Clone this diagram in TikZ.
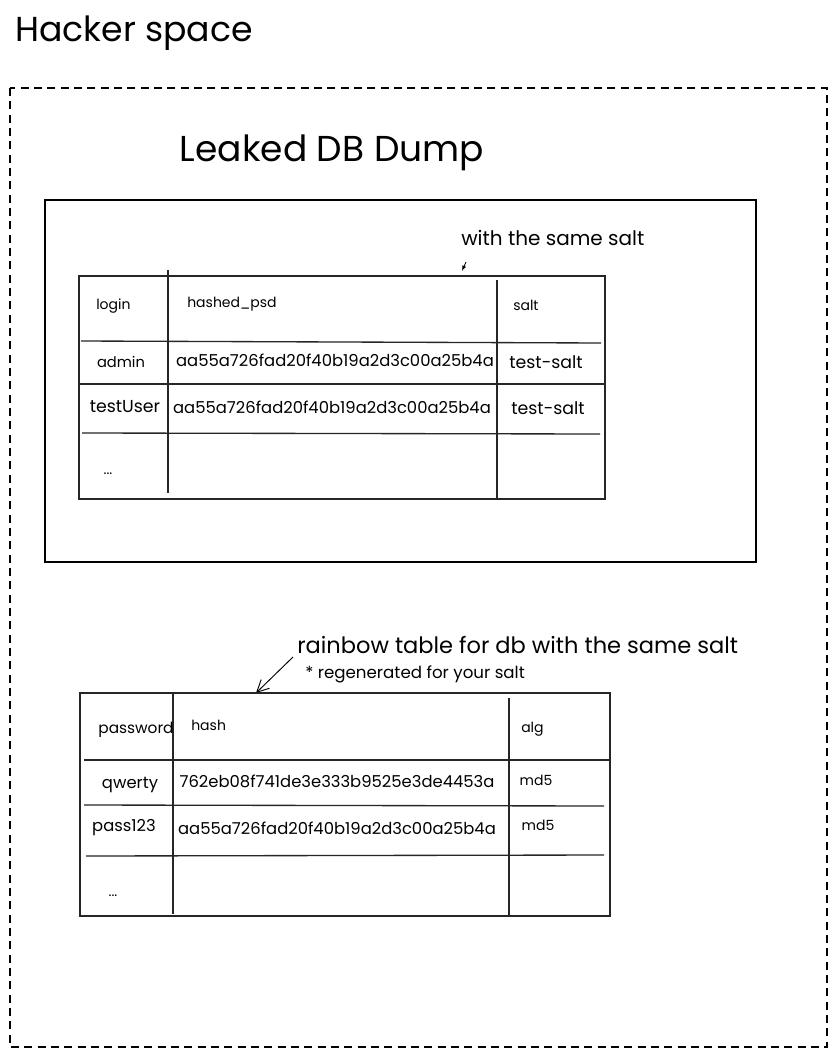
\documentclass[tikz,border=0pt]{standalone}
\usepackage{fontspec}
\setmainfont{Poppins}
\usetikzlibrary{arrows.meta}
\tikzset{
  txt/.style={inner sep=0pt, font=\fontsize{10.5}{12}\selectfont},
  cell/.style={inner sep=0pt, font=\fontsize{12.3}{14}\selectfont},
  big/.style={inner sep=0pt, font=\fontsize{26}{30}\selectfont},
  grid/.style={line width=1pt, black!85},
}
\begin{document}
\begin{tikzpicture}[x=0.75pt,y=-0.75pt]
    	\useasboundingbox (0,0) rectangle (836,1056);
    	\fill[white] (0,0) rectangle (836,1056);

    	\node[big,anchor=west] (hacker) at (15,33) {Hacker space};
    	\draw[dash pattern=on 6pt off 4pt,line width=0.8pt] (10,88) rectangle (827,1047);

    	% leaked dump
    	\node[big,font=\fontsize{27}{31}\selectfont] (leaked) at (332,153) {Leaked DB Dump};
    	\draw[line width=0.9pt] (45,200) rectangle (756,562);
    	\node[txt,font=\fontsize{15}{18}\selectfont,anchor=west] (same) at (461,238) {with the same salt};
    	\coordinate (tip1) at (462,271);
    	\draw[-{Latex[length=4pt,width=3pt]},line width=0.6pt] (466,262) -- (tip1);

    	\draw[grid] (79,276) rectangle (605,499);
    	\draw[grid] (168,270) -- (168,493);
    	\draw[grid] (497,280) -- (497,499);
    	\draw[grid] (81,341) -- (601,343);
    	\draw[grid] (79,384) -- (605,384);
    	\draw[grid] (82,433) -- (600,434);
    	\node[txt,anchor=west] (login) at (96,306) {login};
    	\node[txt,anchor=west] (hpsd) at (187,304) {hashed\_psd};
    	\node[txt,anchor=west] (salt) at (513,305) {salt};
    	\node[txt,font=\fontsize{11}{13}\selectfont] (admin) at (121,362) {admin};
    	\node[cell] (h1) at (335,360) {aa55a726fad20f40b19a2d3c00a25b4a};
    	\node[cell,font=\fontsize{13}{15}\selectfont] (s1) at (546,362) {test-salt};
    	\node[cell,font=\fontsize{13}{15}\selectfont] (tuser) at (125,407) {testUser};
    	\node[cell] (h2) at (332,407) {aa55a726fad20f40b19a2d3c00a25b4a};
    	\node[cell,font=\fontsize{13}{15}\selectfont] (s2) at (548,408) {test-salt};
    	\node[txt] (dots1) at (108,474) {...};

    	% rainbow table
    	\node[txt,font=\fontsize{16.9}{20}\selectfont,anchor=west] (rainbow) at (297,645) {rainbow table for db with the same salt};
    	\node[txt,font=\fontsize{12.5}{14}\selectfont,anchor=west] (regen) at (305,674) {* regenerated for your salt};
    	\coordinate (tip2) at (256,693);
    	\draw[-{Straight Barb[length=9pt,width=9pt]},line width=0.7pt] (293,657) -- (tip2);

    	\draw[grid] (80,693) rectangle (610,916);
    	\draw[grid] (173,693) -- (173,914);
    	\draw[grid] (509,698) -- (509,916);
    	\draw[grid] (84,760) -- (610,760);
    	\draw[grid] (84,805) -- (604,806);
    	\draw[grid] (86,856) -- (604,855);
    	\node[txt,font=\fontsize{11.5}{13}\selectfont] (pwd) at (136,730) {password};
    	\node[txt,anchor=west] (hash) at (191,725) {hash};
    	\node[txt,anchor=west] (alg) at (521,729) {alg};
    	\node[cell] (qwerty) at (130,785) {qwerty};
    	\node[cell] (h3) at (337,781) {762eb08f741de3e333b9525e3de4453a};
    	\node[txt] (m1) at (536,780) {md5};
    	\node[cell] (pass) at (124,828) {pass123};
    	\node[cell] (h4) at (337,828) {aa55a726fad20f40b19a2d3c00a25b4a};
    	\node[txt] (m2) at (538,825) {md5};
    	\node[txt] (dots2) at (113,896) {...};
\end{tikzpicture}
\end{document}
